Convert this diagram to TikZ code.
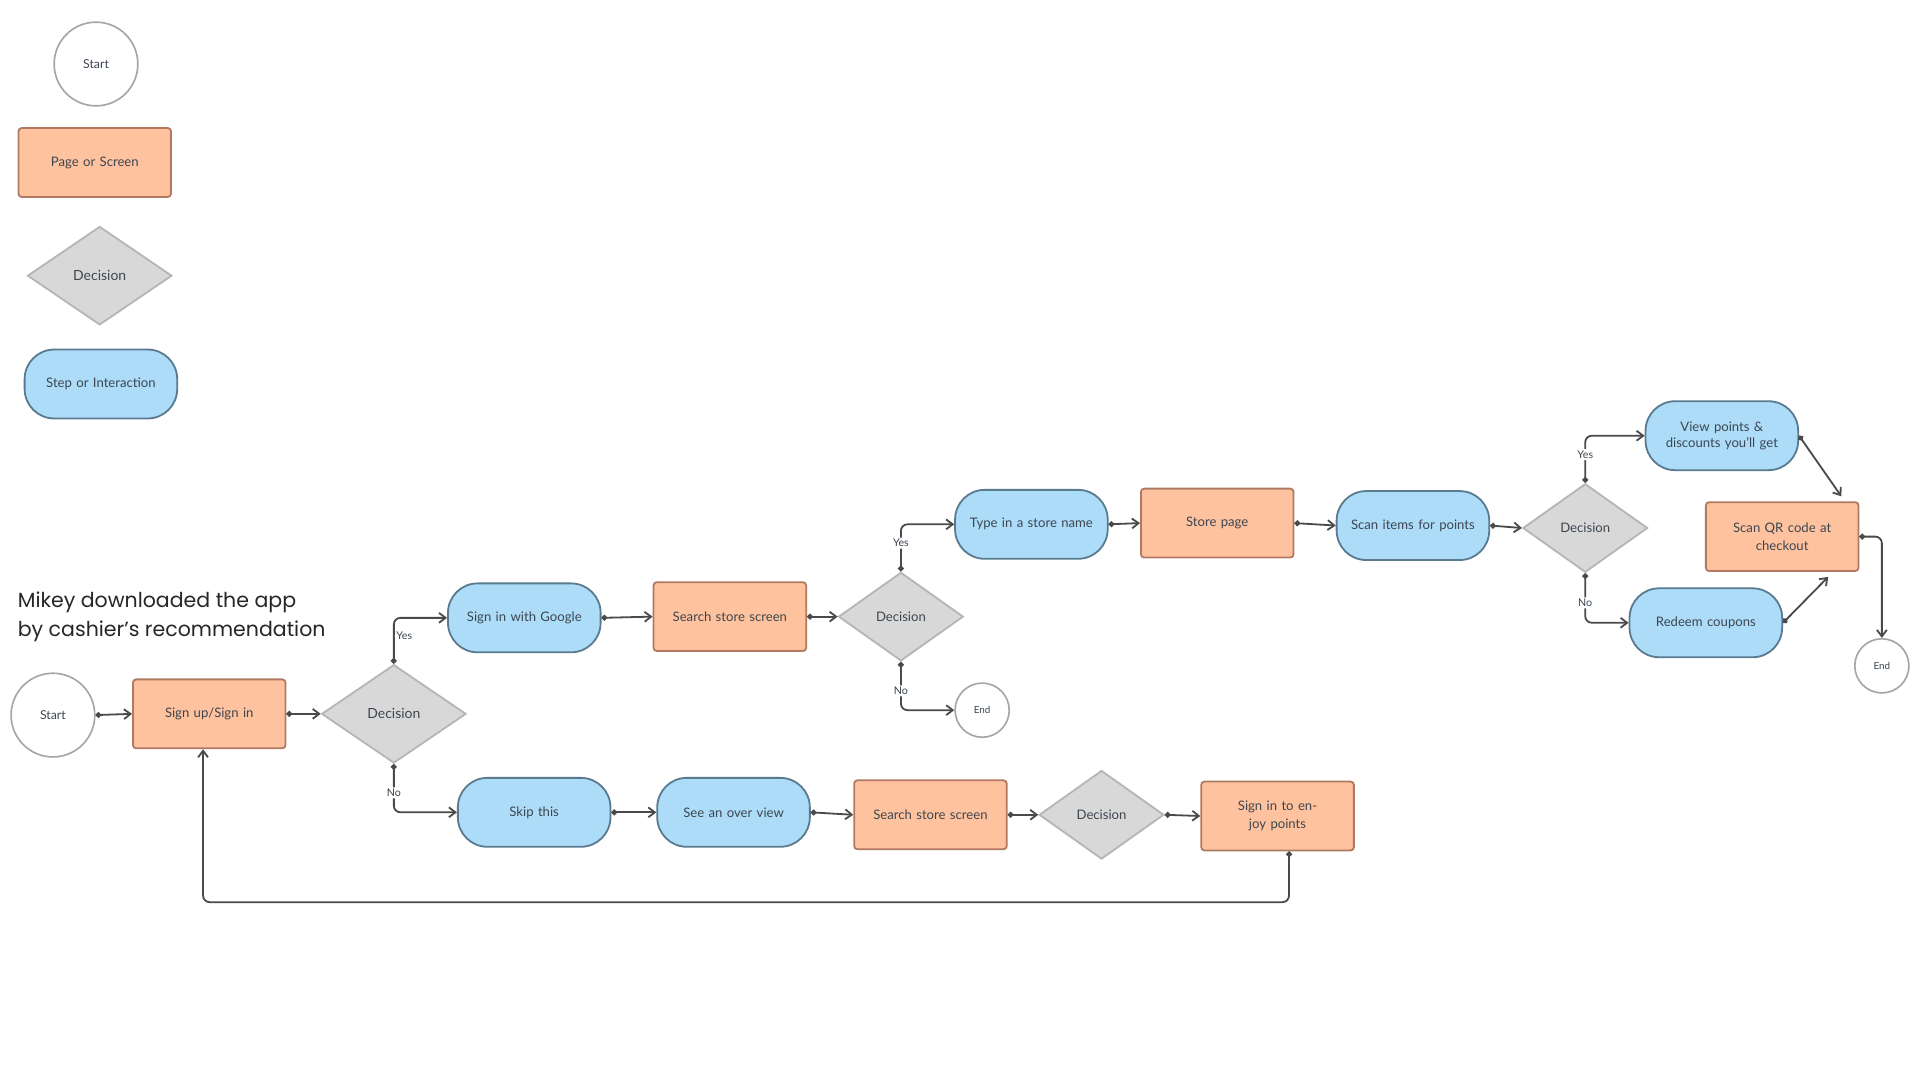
\documentclass[tikz,border=0pt]{standalone}
\usepackage{fontspec}
\setmainfont{Lato}
\newfontfamily\titlefont{Poppins}
\usetikzlibrary{arrows.meta,shapes.geometric}
\definecolor{pagefill}{HTML}{FFC29E}
\definecolor{pageline}{HTML}{B07A62}
\definecolor{stepfill}{HTML}{ADDCF8}
\definecolor{stepline}{HTML}{5A7A90}
\definecolor{decfill}{HTML}{D9D8D8}
\definecolor{decline}{HTML}{B5B5B5}
\definecolor{wire}{HTML}{4A4A4A}
\definecolor{txt}{HTML}{3C4650}
\tikzset{every picture/.style={line width=0.75pt}}
\tikzset{
  page/.style={rectangle, rounded corners=2pt, draw=pageline, fill=pagefill, line width=1.1pt, minimum width=93pt, minimum height=42pt, align=center, text width=80pt, font=\fontsize{8}{11}\selectfont, text=txt},
  stepbox/.style={rectangle, rounded corners=18pt, draw=stepline, fill=stepfill, line width=1.1pt, minimum width=93pt, minimum height=42pt, align=center, text width=80pt, font=\fontsize{8}{10}\selectfont, text=txt},
  dec/.style={diamond, draw=decline, fill=decfill, line width=1.1pt, aspect=1.45, inner sep=0pt, minimum width=88pt, minimum height=60pt, font=\fontsize{8.5}{10}\selectfont, text=txt},
  smalldec/.style={dec, minimum width=76pt, minimum height=54pt, font=\fontsize{8}{10}\selectfont},
  term/.style={circle, draw=gray!70, line width=1pt, fill=white, minimum size=51pt, font=\fontsize{7.5}{9}\selectfont, text=txt},
  endterm/.style={term, minimum size=33pt, font=\fontsize{6}{8}\selectfont},
  link/.style={draw=wire, line width=1.1pt, rounded corners=4pt, {Circle[length=3.5pt]}-{Straight Barb[length=4pt,width=6pt]}},
  tag/.style={fill=white, inner sep=1pt, font=\fontsize{6.5}{8}\selectfont, text=txt}
}
\begin{document}
\begin{tikzpicture}[x=0.75pt,y=0.75pt,yscale=-1,xscale=1]
\path[use as bounding box, fill=white] (0,0) rectangle (1560,877.5);

%legend
\node[term] (keystart) at (78,52) {Start};
\node[page] (keypage) at (77,132) {Page or Screen};
\node[dec] (keydec) at (81,224) {Decision};
\node[stepbox] (keystep) at (82,312) {Step or Interaction};

%title
\node[anchor=north west, align=left, inner sep=0pt, font=\titlefont\fontsize{12.5}{18}\selectfont, text=black!85] (title) at (14,480) {Mikey downloaded the app\\by cashier’s recommendation};

%main flow
\node[term] (start) at (43,581) {Start};
\node[page] (signup) at (170,580) {Sign up/Sign in};
\node[dec] (dec1) at (320,580) {Decision};
\node[stepbox] (google) at (426,502) {Sign in with Google};
\node[page] (search1) at (593,501) {Search store screen};
\node[smalldec] (dec2) at (732,501) {Decision};
\node[endterm] (end1) at (798,577) {End};
\node[stepbox] (type) at (838,426) {Type in a store name};
\node[page] (store) at (989,425) {Store page};
\node[stepbox] (scan) at (1148,427) {Scan items for points};
\node[smalldec] (dec3) at (1288,429) {Decision};
\node[stepbox] (view) at (1399,354) {View points \&\\discounts you'll get};
\node[stepbox] (redeem) at (1386,506) {Redeem coupons};
\node[page] (scanqr) at (1448,436) {Scan QR code at\\checkout};
\node[endterm] (end2) at (1529,541) {End};
\node[stepbox] (skip) at (434,660) {Skip this};
\node[stepbox] (over) at (596,660) {See an over view};
\node[page] (search2) at (756,662) {Search store screen};
\node[smalldec] (dec4) at (895,662) {Decision};
\node[page] (signin) at (1038,663) {Sign in to enjoy points};
\coordinate (loop) at (165,733);

%connectors
\draw[link] (start.east) -- (signup.west);
\draw[link] (signup.east) -- (dec1.west);
\draw[link] (dec1.north) |- node[tag, pos=0.3, right] {Yes} (google.west);
\draw[link] (dec1.south) |- node[tag, pos=0.3] {No} (skip.west);
\draw[link] (google.east) -- (search1.west);
\draw[link] (search1.east) -- (dec2.west);
\draw[link] (dec2.north) |- node[tag, pos=0.3] {Yes} (type.west);
\draw[link] (dec2.south) |- node[tag, pos=0.3] {No} (end1.west);
\draw[link] (type.east) -- (store.west);
\draw[link] (store.east) -- (scan.west);
\draw[link] (scan.east) -- (dec3.west);
\draw[link] (dec3.north) |- node[tag, pos=0.3] {Yes} (view.west);
\draw[link] (dec3.south) |- node[tag, pos=0.3] {No} (redeem.west);
\draw[link] (view.east) -- ([xshift=-11pt,yshift=-3pt]scanqr.north east);
\draw[link] (redeem.east) -- ([xshift=-19pt,yshift=3pt]scanqr.south east);
\draw[link] (scanqr.east) -| (end2.north);
\draw[link] (skip.east) -- (over.west);
\draw[link] (over.east) -- (search2.west);
\draw[link] (search2.east) -- (dec4.west);
\draw[link] (dec4.east) -- (signin.west);
\draw[link] ([xshift=7pt]signin.south) |- (loop) -- (loop |- signup.south);
\end{tikzpicture}
\end{document}
